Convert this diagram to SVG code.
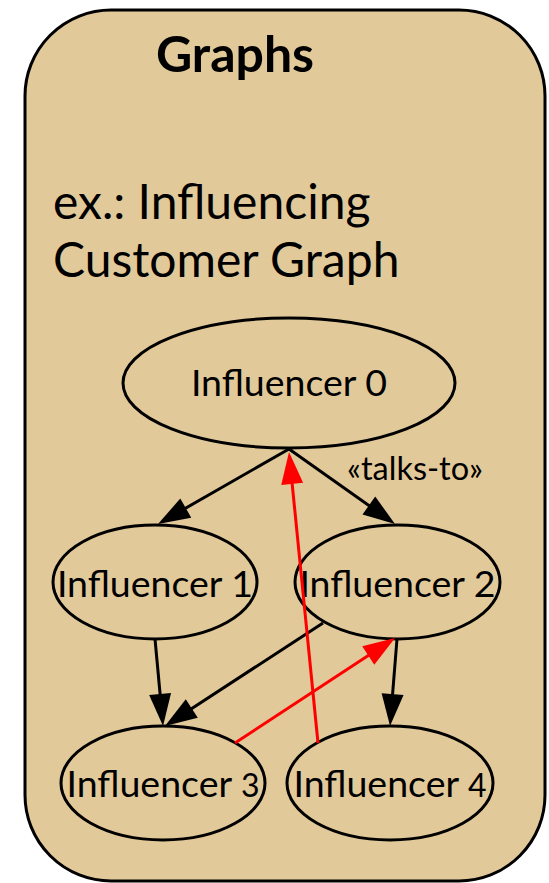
<svg xmlns="http://www.w3.org/2000/svg" width="549" height="883" viewBox="0 0 549 883">
<style>
.node ellipse{fill:#e2c99a;stroke:#000;stroke-width:3}
.lbl{font-family:Lato,"Liberation Sans",sans-serif;font-size:37.5px;fill:#000;text-anchor:middle}
.e{fill:none;stroke:#000;stroke-width:3}
.r{fill:none;stroke:#ff0000;stroke-width:3}
</style>
<defs>
<marker id="ab" markerUnits="userSpaceOnUse" markerWidth="32" markerHeight="22" refX="26" refY="11" orient="auto" overflow="visible"><path d="M0,0 L32,11 L0,22 z" fill="#000"/></marker>
<marker id="ar" markerUnits="userSpaceOnUse" markerWidth="32" markerHeight="22" refX="26" refY="11" orient="auto" overflow="visible"><path d="M0,0 L32,11 L0,22 z" fill="#ff0000"/></marker>
</defs>
<g id="container">
<rect x="25" y="10" width="520" height="871" rx="86" ry="86" fill="#e2c99a" stroke="#000" stroke-width="3"/>
<text x="235" y="72" font-family="Lato,'Liberation Sans',sans-serif" font-weight="bold" font-size="50" text-anchor="middle">Graphs</text>
<text x="53" y="219" font-family="Lato,'Liberation Sans',sans-serif" font-size="48">ex.: Influencing</text>
<text x="53" y="277" font-family="Lato,'Liberation Sans',sans-serif" font-size="48">Customer Graph</text>
</g>
<g id="n0" class="node"><ellipse cx="289" cy="383" rx="166" ry="65"/><text class="lbl" x="289" y="396">Influencer 0</text></g>
<g id="n1" class="node"><ellipse cx="155" cy="582" rx="102" ry="57"/><text class="lbl" x="155" y="597">Influencer 1</text></g>
<g id="n2" class="node"><ellipse cx="397.5" cy="582" rx="102.5" ry="57"/><text class="lbl" x="397.5" y="597">Influencer 2</text></g>
<g id="n3" class="node"><ellipse cx="163" cy="783" rx="102" ry="57"/><text class="lbl" x="163" y="797">Influencer <tspan font-size="32">3</tspan></text></g>
<g id="n4" class="node"><ellipse cx="390" cy="783" rx="103" ry="57"/><text class="lbl" x="390" y="797">Influencer <tspan font-size="32">4</tspan></text></g>
<g id="edges">
<path class="e" d="M289,449 L163.2,521" marker-end="url(#ab)"/>
<path class="e" d="M289,449 L390.1,520.5" marker-end="url(#ab)"/>
<path class="e" d="M155,639 L162.5,720" marker-end="url(#ab)"/>
<path class="e" d="M323,623 L170,722.7" marker-end="url(#ab)"/>
<path class="e" d="M397,639 L390.5,720" marker-end="url(#ab)"/>
<path class="r" d="M235,743 L390,641.3" marker-end="url(#ar)"/>
<path class="r" d="M318,743 L289.6,458" marker-end="url(#ar)"/>
<text x="347" y="480" font-family="Lato,'Liberation Sans',sans-serif" font-size="32.5">«talks-to»</text>
</g>
</svg>
